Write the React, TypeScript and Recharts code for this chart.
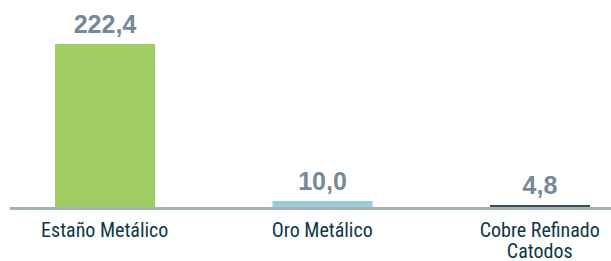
import React from 'react';
import { BarChart, Bar, XAxis, YAxis, Cell, LabelList, Text } from 'recharts';

// Products and their values
const categories = ['Estaño Metálico', 'Oro Metálico', 'Cobre Refinado Catodos'];
const values = [222.4, 10.0, 4.8];
const barColors = ['#9fcd63', '#9ccad8', '#3f4b52'];

const data = categories.map((name, i) => ({ name, value: values[i] }));

// Spanish style decimal: 222,4
const fmt = (v: any) => Number(v).toFixed(1).replace('.', ',');

const CategoryTick = (props: any) => {
  const { x, y, payload } = props;
  return (
    <Text
      x={x}
      y={y + 6}
      width={150}
      textAnchor="middle"
      verticalAnchor="start"
      lineHeight={21}
      fill="#0c3847"
      style={{ fontFamily: '"Liberation Sans Narrow", "Roboto Condensed", Roboto, sans-serif', fontSize: 20 }}
    >
      {payload.value}
    </Text>
  );
};

const App: React.FC = () => {
  return (
    <div style={{ position: 'fixed', left: 0, top: 0, width: 611, height: 261, background: '#fff' }}>
      <BarChart width={611} height={261} data={data} margin={{ top: 44, right: 0, left: 10, bottom: 0 }}>
        <YAxis hide domain={[0, 222.4]} />
        <Bar dataKey="value" barSize={100} isAnimationActive={false}>
          {data.map((d, i) => (
            <Cell key={`cell-${i}`} fill={barColors[i]} />
          ))}
          <LabelList
            dataKey="value"
            position="top"
            offset={11}
            formatter={fmt}
            fill="#74899a"
            style={{ fontFamily: '"Liberation Sans", Arial, sans-serif', fontSize: 25, fontWeight: 700 }}
          />
        </Bar>
        <XAxis
          dataKey="name"
          height={52.5}
          padding={{ left: -14, right: -37.5 }}
          axisLine={{ stroke: '#a3b3ba', strokeWidth: 3 }}
          tickLine={false}
          interval={0}
          tick={<CategoryTick />}
        />
      </BarChart>
    </div>
  );
};

export default App;
